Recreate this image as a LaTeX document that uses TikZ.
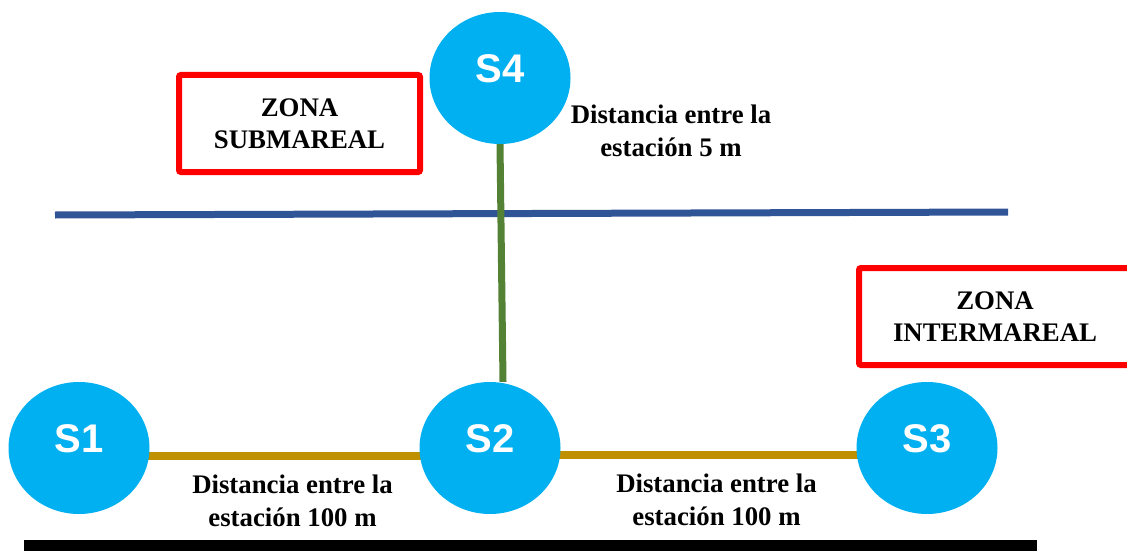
\documentclass[tikz,border=0pt]{standalone}
\usepackage{fontspec}
\setmainfont{Liberation Serif}
\newfontfamily\arialfont{Liberation Sans}
\usetikzlibrary{shapes.geometric,backgrounds}
\definecolor{stblue}{HTML}{00B0F0}
\definecolor{zred}{HTML}{FF0000}
\definecolor{lblue}{HTML}{2F5597}
\definecolor{lgreen}{HTML}{548235}
\definecolor{lgold}{HTML}{BF9000}
\begin{document}
\begin{tikzpicture}[x=1pt,y=-1pt,
  station/.style={ellipse, fill=stblue, minimum width=141pt, minimum height=132pt, inner sep=0pt},
  stlabel/.style={text=white, font=\arialfont\bfseries\fontsize{40}{48}\selectfont, inner sep=0pt},
  zonebox/.style={draw=zred, line width=6pt, rounded corners=2pt, align=center, inner sep=0pt,
    font=\bfseries\fontsize{26.8}{32}\selectfont},
  dist/.style={font=\bfseries\fontsize{26.8}{33}\selectfont, align=center, inner sep=0pt},
  waterline/.style={draw=lblue, line width=7pt},
  vlink/.style={draw=lgreen, line width=7pt},
  hlink/.style={draw=lgold, line width=8pt},
]
\useasboundingbox (0,0) rectangle (1127,551);

% stations
\node[station] (s4) at (500,78) {};
\node[station] (s1) at (79,448) {};
\node[station] (s2) at (490,448) {};
\node[station] (s3) at (927,448) {};
\node[stlabel] (l4) at ([yshift=9pt]s4.center) {S4};
\node[stlabel] (l1) at ([yshift=9pt]s1.center) {S1};
\node[stlabel] (l2) at ([yshift=9pt]s2.center) {S2};
\node[stlabel] (l3) at ([yshift=9pt]s3.center) {S3};

% zones
\node[zonebox, minimum width=241pt, minimum height=97pt] (zsub) at (299.5,123.5) {ZONA\\SUBMAREAL};
\node[zonebox, minimum width=272pt, minimum height=97pt] (zint) at (995,316.5) {ZONA\\INTERMAREAL};

% distance labels
\node[dist] (d4) at (671,130.5) {Distancia entre la\\estación 5 m};
\node[dist] (d12) at (292.5,500.5) {Distancia entre la\\estación 100 m};
\node[dist] (d23) at (716.5,499.5) {Distancia entre la\\estación 100 m};

\coordinate (wl) at (55,215);
\coordinate (wr) at (1008,212);

\begin{scope}[on background layer]
  \draw[waterline] (wl) -- (wr);
  \draw[vlink] (s4.south) -- ([xshift=13pt]s2.north);
  \draw[hlink] ([yshift=-8pt]s1.center) -- ([yshift=-8pt]s2.center);
  \draw[hlink] ([yshift=-7pt]s2.center) -- ([yshift=-7pt]s3.center);
  \fill[black] (24,540) rectangle (1037,553);
\end{scope}
\end{tikzpicture}
\end{document}
